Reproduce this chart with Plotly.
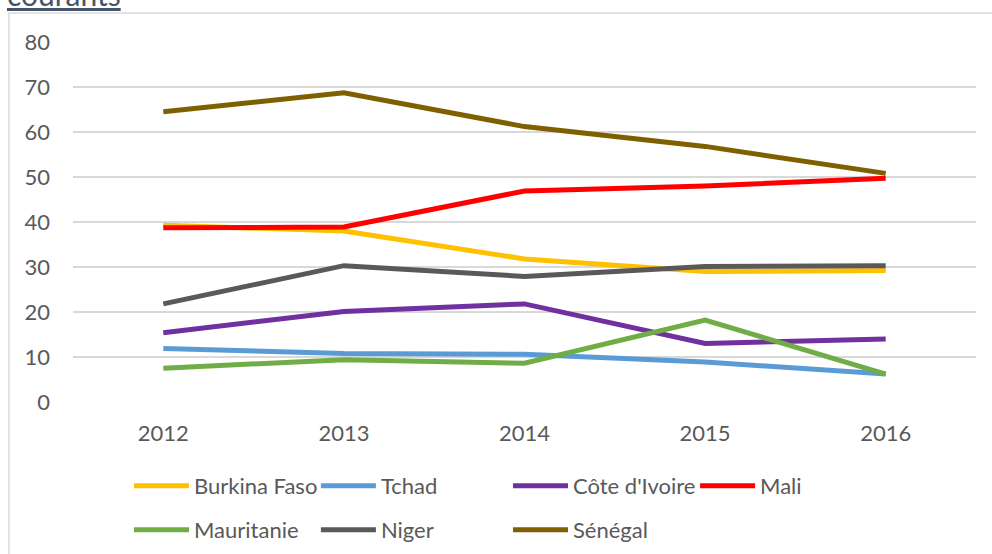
import plotly.graph_objects as go

years = ["2012", "2013", "2014", "2015", "2016"]
burkina = [39.3, 38.0, 31.8, 29.0, 29.2]
tchad = [11.9, 10.8, 10.6, 8.9, 6.2]
cote_ivoire = [15.4, 20.1, 21.8, 13.0, 14.0]
mali = [38.7, 38.9, 46.9, 48.0, 49.7]
mauritanie = [7.5, 9.4, 8.6, 18.2, 6.2]
niger = [21.8, 30.3, 27.9, 30.1, 30.3]
senegal = [64.5, 68.7, 61.2, 56.8, 50.8]

series = [
    ("Burkina Faso", burkina, "#FFC000"),
    ("Tchad", tchad, "#5B9BD5"),
    ("Côte d'Ivoire", cote_ivoire, "#7030A0"),
    ("Mali", mali, "#FF0000"),
    ("Mauritanie", mauritanie, "#70AD47"),
    ("Niger", niger, "#595959"),
    ("Sénégal", senegal, "#7F6000"),
]
y_ticks = [0, 10, 20, 30, 40, 50, 60, 70, 80]

FONT = "Lato"
TXT = "#595959"
FS = 22

# legend positions (paper coords), one legend per entry to mimic Excel layout
legend_pos = [(0.062, -0.2333), (0.269, -0.2333), (0.4817, -0.2333), (0.6889, -0.2333),
              (0.062, -0.3556), (0.269, -0.3556), (0.4817, -0.3556)]

fig = go.Figure()
layout_legends = {}
for i, (name, vals, col) in enumerate(series):
    lname = "legend" if i == 0 else f"legend{i+1}"
    fig.add_trace(go.Scatter(
        x=years, y=vals, name=name, mode="lines",
        line=dict(color=col, width=5),
        legend=lname,
    ))
    lx, ly = legend_pos[i]
    layout_legends[lname] = dict(
        x=lx, y=ly, xanchor="left", yanchor="middle",
        bgcolor="rgba(0,0,0,0)", font=dict(family=FONT, size=FS, color=TXT),
        itemwidth=55,
    )

fig.update_layout(
    width=992, height=554,
    margin=dict(l=73, r=16, t=42, b=152, autoexpand=False),
    paper_bgcolor="white", plot_bgcolor="white",
    font=dict(family=FONT, size=FS, color=TXT),
    showlegend=True,
    **layout_legends,
)
fig.update_xaxes(
    type="category", range=[-0.5, 4.5], showgrid=False, showline=False,
    zeroline=False, ticks="", ticklabelstandoff=16,
    tickfont=dict(family=FONT, size=FS, color=TXT),
)
fig.update_yaxes(
    range=[0, 80], tickvals=y_ticks, showgrid=True, gridcolor="#D9D9D9",
    gridwidth=1.5, zeroline=False, showline=False, ticks="",
    ticklabelstandoff=22,
    tickfont=dict(family=FONT, size=FS, color=TXT),
)

# chart border (Excel chart area) and clipped title remnant
fig.add_shape(type="rect", xref="paper", yref="paper",
              x0=-0.0709, x1=1.5, y0=-0.6, y1=1.0806,
              line=dict(color="#D9D9D9", width=1.5), layer="below")
fig.add_annotation(xref="paper", yref="paper", x=-0.075, y=1.0775,
                   xanchor="left", yanchor="bottom", showarrow=False,
                   text="<u>courants</u>",
                   font=dict(family=FONT, size=30, color="#44546A"))

fig.write_html("out.html", config={"displayModeBar": False},
               post_script="document.body.style.margin='0px';")
